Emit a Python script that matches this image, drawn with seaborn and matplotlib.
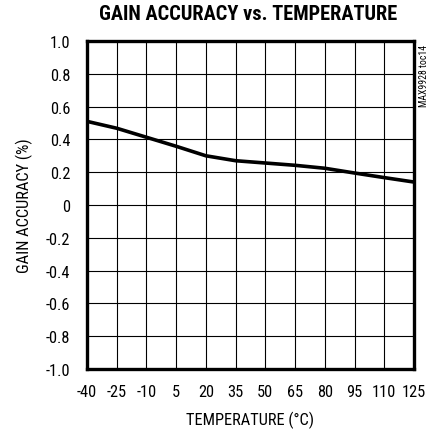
import matplotlib
matplotlib.use("Agg")
import matplotlib.pyplot as plt
from matplotlib import font_manager
from matplotlib.font_manager import FontProperties
import seaborn as sns
import pandas as pd

temperature = [-40, -25, -10, 5, 20, 35, 50, 65, 80, 95, 110, 125]
gain_accuracy = [0.51, 0.468, 0.413, 0.358, 0.30, 0.27, 0.256, 0.242, 0.224, 0.195, 0.167, 0.14]
x_ticks = [-40, -25, -10, 5, 20, 35, 50, 65, 80, 95, 110, 125]
y_ticks = [-1.0, -0.8, -0.6, -0.4, -0.2, 0, 0.2, 0.4, 0.6, 0.8, 1.0]
y_tick_labels = ["-1.0", "-0.8", "-0.6", "-0.4", "-0.2", "0", "0.2", "0.4", "0.6", "0.8", "1.0"]

sns.set_style("white")
for k in ["text.color", "axes.labelcolor", "xtick.color", "ytick.color"]:
    plt.rcParams[k] = "black"
plt.rcParams["axes.unicode_minus"] = False

entries = font_manager.fontManager.ttflist
pref = ["Liberation Sans Narrow", "Roboto Condensed", "Noto Sans Condensed",
        "Open Sans Condensed", "DejaVu Sans Condensed", "Liberation Sans"]


def wt(e):
    w = e.weight
    try:
        return int(w)
    except Exception:
        return 700 if "bold" in str(w).lower() else 400


def find_font(bold):
    for name in pref:
        cands = [e for e in entries if e.name == name and e.style == "normal"]
        if not cands:
            continue
        target = 700 if bold else 400
        cands.sort(key=lambda e: abs(wt(e) - target) + (0 if (wt(e) >= 600) == bold else 1000))
        c = cands[0]
        if (wt(c) >= 600) == bold:
            return FontProperties(fname=c.fname)
    return FontProperties(family="Liberation Sans", weight="bold" if bold else "normal")


reg = find_font(False)
bold = find_font(True)

df = pd.DataFrame({"temp": temperature, "gain": gain_accuracy})

fig = plt.figure(figsize=(4.35, 4.35), dpi=100)
L, R, T, B = 87, 414, 42, 370
ax = fig.add_axes([L / 435, 1 - B / 435, (R - L) / 435, (B - T) / 435])
sns.lineplot(data=df, x="temp", y="gain", ax=ax, color="black", linewidth=2.6)

ax.set_xlim(-40, 125)
ax.set_ylim(-1.0, 1.0)
ax.set_xticks(x_ticks)
ax.set_xticklabels([str(t) for t in x_ticks])
ax.set_yticks(y_ticks)
ax.set_yticklabels(y_tick_labels)
ax.grid(True, color="black", linewidth=0.8)
for s in ax.spines.values():
    s.set_visible(True)
    s.set_color("black")
    s.set_linewidth(2.4)

# measure font scale: "125" should be ~24 px wide
probe = fig.text(0, 0, "125", fontproperties=reg, fontsize=10)
fig.canvas.draw()
fs = 10 * 24 / probe.get_window_extent().width
probe.remove()

ax.tick_params(axis="x", length=0, colors="black", pad=11)
ax.tick_params(axis="y", length=0, colors="black", pad=12)
for lab in ax.get_xticklabels() + ax.get_yticklabels():
    lab.set_fontproperties(reg)
    lab.set_fontsize(fs)

ax.set_xlabel("TEMPERATURE (°C)", fontproperties=reg, fontsize=fs, va="center", ha="center")
ax.set_ylabel("GAIN ACCURACY (%)", fontproperties=reg, fontsize=fs, va="center", ha="center",
              rotation_mode="default")
ax.xaxis.set_label_coords(0.5, -(420 - B) / (B - T))
ax.yaxis.set_label_coords(-(L - 24) / (R - L), 0.5)

title = fig.text(248 / 435, 1 - 15 / 435, "GAIN ACCURACY vs. TEMPERATURE", ha="center", va="center",
                 fontproperties=bold, fontsize=14)
note = fig.text(424 / 435, 1 - 76 / 435, "MAX9928 toc14", rotation=90, ha="center", va="center",
                fontproperties=reg, fontsize=7)

fig.canvas.draw()
w = title.get_window_extent().width
title.set_fontsize(14 * 300 / w)

fig.savefig("out.png", dpi=100)
